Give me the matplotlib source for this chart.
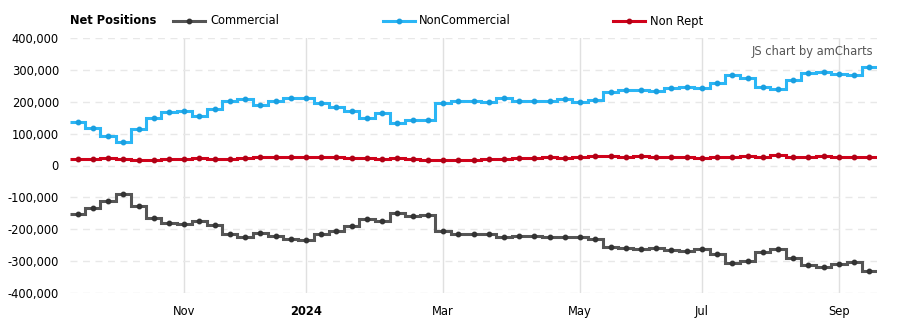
import numpy as np
import pandas as pd
import matplotlib
matplotlib.use("Agg")
import matplotlib.pyplot as plt
from matplotlib.lines import Line2D
from matplotlib.ticker import FuncFormatter

# weekly report dates (Tuesdays)
dates = pd.date_range("2023-09-19", periods=53, freq="7D")

commercial = [-151, -134, -112, -90, -127, -165, -180, -184, -174, -187,
              -214, -225, -211, -223, -231, -235, -215, -205, -189, -167,
              -176, -150, -159, -155, -205, -215, -215, -215, -226, -221,
              -221, -225, -225, -225, -231, -256, -259, -262, -259, -265,
              -268, -262, -278, -306, -299, -272, -264, -290, -312, -319,
              -309, -303, -331]
noncommercial = [137, 119, 94, 75, 116, 150, 167, 170, 157, 177,
                 204, 208, 191, 204, 211, 211, 195, 183, 172, 150,
                 164, 135, 144, 144, 196, 204, 204, 201, 211, 204,
                 204, 204, 208, 201, 206, 231, 238, 238, 235, 245,
                 248, 245, 258, 286, 275, 248, 241, 269, 291, 294,
                 288, 285, 311]
nonrept = [21, 21, 24, 21, 17, 17, 21, 21, 24, 21,
           21, 24, 27, 27, 27, 28, 28, 28, 24, 24,
           21, 24, 21, 17, 17, 17, 17, 21, 21, 24,
           24, 27, 24, 28, 29, 29, 26, 29, 26, 26,
           26, 23, 26, 26, 29, 26, 32, 26, 26, 29,
           26, 26, 26]

series_names = ["Commercial", "NonCommercial", "Non Rept"]
line_colors = ["#555555", "#2bb6f5", "#d0021b"]
marker_colors = ["#333333", "#1a9fe0", "#b00015"]

plt.rcParams["font.family"] = "DejaVu Sans"
fs = 8.3

fig = plt.figure(figsize=(8.97, 3.26), dpi=100)
ax = fig.add_axes([70 / 897, 1 - 292.7 / 326, 807 / 897, (292.7 - 38.3) / 326])

n = len(dates)
idx = np.arange(n)
edges = np.arange(n + 1) - 0.5
for vals, lc, mc in zip([commercial, noncommercial, nonrept], line_colors, marker_colors):
    v = np.array(vals) * 1000
    ax.stairs(v, edges, baseline=None, color=lc, lw=2.2, zorder=3)
    ax.plot(idx, v, "o", ms=3.2, color=mc, zorder=4)

ax.set_xlim(-0.5, n - 0.5)
ax.set_ylim(-400000, 400000)
ax.set_yticks(np.arange(-400000, 400001, 100000))
ax.yaxis.set_major_formatter(FuncFormatter(lambda v, p: f"{int(v):,}"))

# ticks at first report of every second month
tick_pos, tick_lab = [], []
for i, d in enumerate(dates):
    if d.month in (1, 3, 5, 7, 9, 11) and (i == 0 or dates[i - 1].month != d.month) and i > 0:
        tick_pos.append(i)
        tick_lab.append(str(d.year) if d.month == 1 else d.strftime("%b"))
ax.set_xticks(tick_pos)
ax.set_xticklabels(tick_lab)
for t in ax.get_xticklabels():
    if t.get_text().isdigit():
        t.set_fontweight("bold")

ax.tick_params(axis="both", length=0, labelsize=fs, colors="#000000")
ax.tick_params(axis="x", pad=9)
ax.tick_params(axis="y", pad=8)

ax.grid(axis="x", color="#e0e0e0", lw=1, zorder=0)
ax.grid(axis="y", color="#e8e8e8", lw=1, ls=(0, (5, 4)), zorder=0)
for s in ax.spines.values():
    s.set_visible(False)

# legend row
fig.text(70 / 897, 1 - 21 / 326, "Net Positions", fontsize=fs, fontweight="bold",
         va="center", ha="left")
leg_x = [(173, 205, 210), (383, 415, 419), (613, 645, 650)]
ly = 1 - 21 / 326
for (x0, x1, xt), name, lc, mc in zip(leg_x, series_names, line_colors, marker_colors):
    fig.add_artist(Line2D([x0 / 897, x1 / 897], [ly, ly], color=lc, lw=2.2))
    fig.add_artist(Line2D([(x0 + x1) / 2 / 897], [ly], marker="o", ms=3.2, color=mc))
    fig.text(xt / 897, ly, name, fontsize=fs, va="center", ha="left")

fig.text(873 / 897, 1 - 52 / 326, "JS chart by amCharts", fontsize=fs, color="#555555",
         va="center", ha="right")

fig.savefig("out.png", dpi=100, facecolor="white")
